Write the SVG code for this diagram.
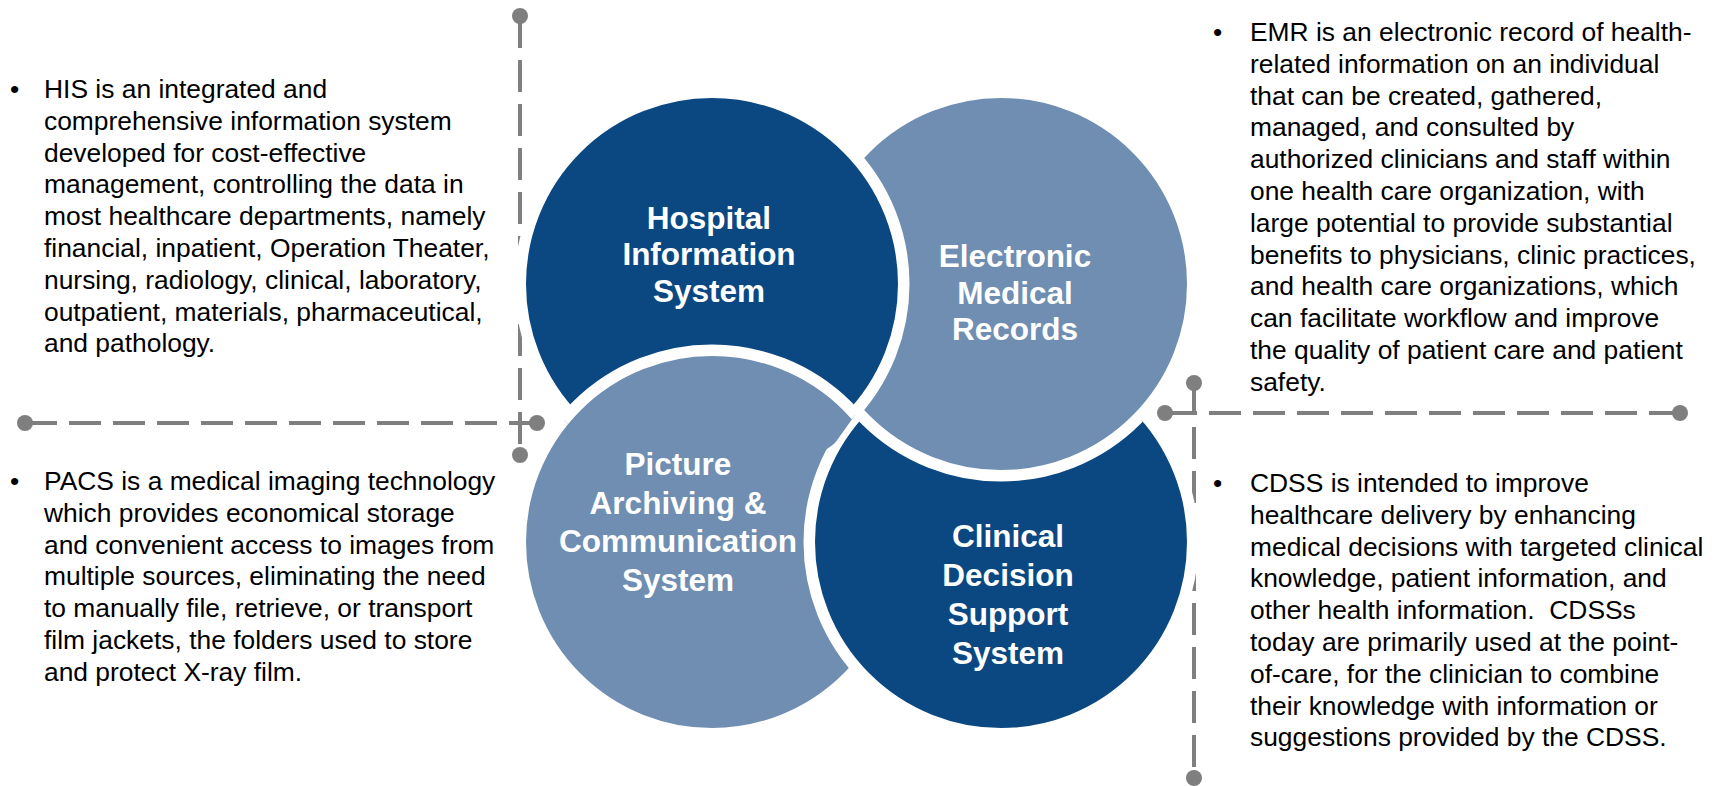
<svg xmlns="http://www.w3.org/2000/svg" xmlns:xlink="http://www.w3.org/1999/xlink" width="1719" height="786" viewBox="0 0 1719 786">
<style>
.dark{fill:#0B4882;stroke:#FFFFFF;stroke-width:11.5}
.light{fill:#6F8EB1;stroke:#FFFFFF;stroke-width:11.5}
.lbl{font-family:"Liberation Sans",Arial,sans-serif;font-weight:bold;font-size:31.5px;fill:#FFFFFF;text-anchor:middle}
.body{font-family:"Liberation Sans",Arial,sans-serif;font-size:26.4px;fill:#000000;white-space:pre}
.dash{stroke:#7F7F7F;stroke-width:4;stroke-dasharray:32 12;fill:none}
.dot{fill:#7F7F7F}
</style>
<defs>
<circle id="pacs-shape" class="light" cx="712" cy="542" r="191.75"/>
<clipPath id="his-area"><circle cx="712" cy="284" r="201"/></clipPath>
<clipPath id="left-of-centre"><path d="M0,0 H900 L856.5,413 L780,520 H0 Z"/></clipPath>
</defs>
<rect width="1719" height="786" fill="#FFFFFF"/>
<g id="connectors">
<line class="dash" x1="520" y1="16" x2="520" y2="455"/>
<line class="dash" x1="25" y1="423" x2="537" y2="423"/>
<circle class="dot" cx="520" cy="16" r="8"/>
<circle class="dot" cx="520" cy="455" r="8"/>
<circle class="dot" cx="25" cy="423" r="8"/>
<circle class="dot" cx="537" cy="423" r="8"/>
<line class="dash" x1="1194" y1="383" x2="1194" y2="778"/>
<line class="dash" x1="1165" y1="413" x2="1680" y2="413"/>
<circle class="dot" cx="1194" cy="383" r="8"/>
<circle class="dot" cx="1194" cy="778" r="8"/>
<circle class="dot" cx="1165" cy="413" r="8"/>
<circle class="dot" cx="1680" cy="413" r="8"/>
</g>
<g id="node-pacs-base">
<use xlink:href="#pacs-shape"/>
</g>
<g id="node-cdss">
<circle class="dark" cx="1001" cy="542" r="191.75"/>
<text class="lbl"><tspan x="1008" y="547">Clinical</tspan><tspan x="1008" y="586">Decision</tspan><tspan x="1008" y="625">Support</tspan><tspan x="1008" y="664">System</tspan></text>
</g>
<g id="node-emr">
<circle class="light" cx="1001" cy="284" r="191.75"/>
<text class="lbl"><tspan x="1015" y="267">Electronic</tspan><tspan x="1015" y="303.5">Medical</tspan><tspan x="1015" y="340">Records</tspan></text>
</g>
<g id="node-his">
<circle class="dark" cx="712" cy="284" r="191.75"/>
<text class="lbl"><tspan x="709" y="228.5">Hospital</tspan><tspan x="709" y="265">Information</tspan><tspan x="709" y="301.5">System</tspan></text>
</g>
<g id="node-pacs">
<g clip-path="url(#left-of-centre)"><use xlink:href="#pacs-shape" clip-path="url(#his-area)"/></g>
<text class="lbl"><tspan x="678" y="475">Picture</tspan><tspan x="678" y="513.5">Archiving &amp;</tspan><tspan x="678" y="552">Communication</tspan><tspan x="678" y="590.5">System</tspan></text>
</g>
<g id="desc-his">
<text class="body" x="10" y="98">•</text>
<text class="body"><tspan x="44" y="98">HIS is an integrated and</tspan><tspan x="44" y="129.8">comprehensive information system</tspan><tspan x="44" y="161.6">developed for cost-effective</tspan><tspan x="44" y="193.4">management, controlling the data in</tspan><tspan x="44" y="225.2">most healthcare departments, namely</tspan><tspan x="44" y="257">financial, inpatient, Operation Theater,</tspan><tspan x="44" y="288.8">nursing, radiology, clinical, laboratory,</tspan><tspan x="44" y="320.6">outpatient, materials, pharmaceutical,</tspan><tspan x="44" y="352.4">and pathology.</tspan></text>
</g>
<g id="desc-pacs">
<text class="body" x="10" y="490">•</text>
<text class="body"><tspan x="44" y="490">PACS is a medical imaging technology</tspan><tspan x="44" y="521.8">which provides economical storage</tspan><tspan x="44" y="553.6">and convenient access to images from</tspan><tspan x="44" y="585.4">multiple sources, eliminating the need</tspan><tspan x="44" y="617.2">to manually file, retrieve, or transport</tspan><tspan x="44" y="649">film jackets, the folders used to store</tspan><tspan x="44" y="680.8">and protect X-ray film.</tspan></text>
</g>
<g id="desc-emr">
<text class="body" x="1213" y="41">•</text>
<text class="body"><tspan x="1250" y="41">EMR is an electronic record of health-</tspan><tspan x="1250" y="72.8">related information on an individual</tspan><tspan x="1250" y="104.6">that can be created, gathered,</tspan><tspan x="1250" y="136.4">managed, and consulted by</tspan><tspan x="1250" y="168.2">authorized clinicians and staff within</tspan><tspan x="1250" y="200">one health care organization, with</tspan><tspan x="1250" y="231.8">large potential to provide substantial</tspan><tspan x="1250" y="263.6">benefits to physicians, clinic practices,</tspan><tspan x="1250" y="295.4">and health care organizations, which</tspan><tspan x="1250" y="327.2">can facilitate workflow and improve</tspan><tspan x="1250" y="359">the quality of patient care and patient</tspan><tspan x="1250" y="390.8">safety.</tspan></text>
</g>
<g id="desc-cdss">
<text class="body" x="1213" y="492">•</text>
<text class="body"><tspan x="1250" y="492">CDSS is intended to improve</tspan><tspan x="1250" y="523.8">healthcare delivery by enhancing</tspan><tspan x="1250" y="555.6">medical decisions with targeted clinical</tspan><tspan x="1250" y="587.4">knowledge, patient information, and</tspan><tspan x="1250" y="619.2">other health information.  CDSSs</tspan><tspan x="1250" y="651">today are primarily used at the point-</tspan><tspan x="1250" y="682.8">of-care, for the clinician to combine</tspan><tspan x="1250" y="714.6">their knowledge with information or</tspan><tspan x="1250" y="746.4">suggestions provided by the CDSS.</tspan></text>
</g>
</svg>
